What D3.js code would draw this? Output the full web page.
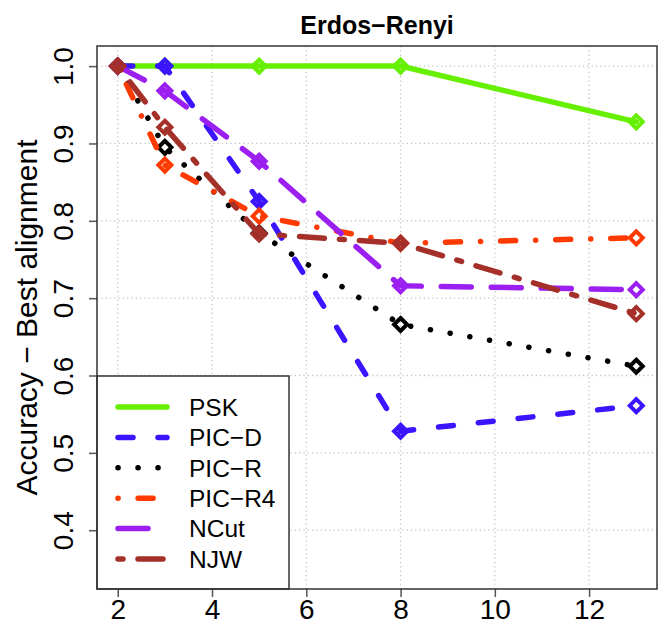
<!DOCTYPE html>
<html>
<head>
<meta charset="utf-8">
<script src="https://cdn.jsdelivr.net/npm/d3@7"></script>
<style>
  body { margin: 0; background: #fff; }
  svg text { font-family: "Liberation Sans", Arial, Helvetica, sans-serif; fill: #000; }
</style>
</head>
<body>
<svg id="chart" width="658" height="629"></svg>
<script>
// data
var clusters = [2, 3, 5, 8, 13];
var methods = ['PSK', 'PIC-D', 'PIC-R', 'PIC-R4', 'NCut', 'NJW'];
var psk   = [1.000, 1.000, 1.000, 1.000, 0.928];
var picD  = [1.000, 1.000, 0.825, 0.528, 0.561];
var picR  = [1.000, 0.895, 0.784, 0.666, 0.612];
var picR4 = [1.000, 0.872, 0.806, 0.771, 0.778];
var ncut  = [1.000, 0.968, 0.877, 0.716, 0.711];
var njw   = [1.000, 0.921, 0.783, 0.771, 0.680];
var xTicks = [2, 4, 6, 8, 10, 12];
var yTicks = [0.4, 0.5, 0.6, 0.7, 0.8, 0.9, 1.0];

var seriesValues = [psk, picD, picR, picR4, ncut, njw];
var colors = ['#66f000', '#3c14ff', '#000000', '#ff3a00', '#9b1ff0', '#a5302a'];
// R lty 1..6 scaled by line width, round caps
var dashes = [null, '15,25', '0.1,19.9', '0.1,20,15,20', '30,20', '5,15,25,15'];

var svg = d3.select('#chart');
var pL = 97, pR = 657, pT = 46, pB = 589;

var x = d3.scaleLinear().domain([1.56, 13.44]).range([pL, pR]);
var y = d3.scaleLinear().domain([0.324, 1.026]).range([pB, pT]);

// grid
var grid = svg.append('g').attr('stroke', '#c4c4c4').attr('stroke-width', 1.3)
    .attr('stroke-dasharray', '1.3,3');
grid.selectAll('.gx').data(xTicks).enter().append('line')
    .attr('x1', function(d){ return x(d); }).attr('x2', function(d){ return x(d); })
    .attr('y1', pT).attr('y2', pB);
grid.selectAll('.gy').data(yTicks).enter().append('line')
    .attr('x1', pL).attr('x2', pR)
    .attr('y1', function(d){ return y(d); }).attr('y2', function(d){ return y(d); });

// axes
var xAxis = svg.append('g').attr('transform', 'translate(0,' + pB + ')')
    .call(d3.axisBottom(x).tickValues(xTicks).tickSize(8).tickFormat(d3.format('d')));
xAxis.select('.domain').remove();
xAxis.selectAll('line').attr('stroke', '#555').attr('stroke-width', 1.5);
xAxis.selectAll('text')
    .attr('font-size', 28).attr('fill', '#000')
    .attr('y', 30).attr('dy', 0);

var yAxis = svg.append('g').attr('transform', 'translate(' + pL + ',0)')
    .call(d3.axisLeft(y).tickValues(yTicks).tickSize(8).tickFormat(d3.format('.1f')));
yAxis.select('.domain').remove();
yAxis.selectAll('line').attr('stroke', '#555').attr('stroke-width', 1.5);
yAxis.selectAll('text')
    .attr('font-size', 28).attr('fill', '#000')
    .attr('text-anchor', 'middle')
    .attr('x', 0).attr('dy', 0)
    .attr('transform', 'translate(-24,0) rotate(-90)');

// series
var line = d3.line()
    .x(function(d, i){ return x(clusters[i]); })
    .y(function(d){ return y(d); });

var diamond = 'M0,-6.5L6.5,0L0,6.5L-6.5,0Z';

seriesValues.forEach(function(vals, k){
    var g = svg.append('g');
    g.append('path')
        .datum(vals)
        .attr('d', line)
        .attr('fill', 'none')
        .attr('stroke', colors[k])
        .attr('stroke-width', 5.5)
        .attr('stroke-linecap', 'round')
        .attr('stroke-dasharray', dashes[k]);
    g.selectAll('.pt').data(vals).enter().append('path')
        .attr('d', diamond)
        .attr('transform', function(d, i){ return 'translate(' + x(clusters[i]) + ',' + y(d) + ')'; })
        .attr('fill', 'none')
        .attr('stroke', colors[k])
        .attr('stroke-width', 4);
});

// legend
var lg = svg.append('g');
lg.append('rect')
    .attr('x', pL).attr('y', 376)
    .attr('width', 289 - pL).attr('height', pB - 376)
    .attr('fill', '#fff').attr('stroke', '#333').attr('stroke-width', 1.5);
methods.forEach(function(m, k){
    var ly = 407 + k * 30.4;
    lg.append('line')
        .attr('x1', 118).attr('x2', 167)
        .attr('y1', ly).attr('y2', ly)
        .attr('stroke', colors[k]).attr('stroke-width', 5.5)
        .attr('stroke-linecap', 'round')
        .attr('stroke-dasharray', dashes[k]);
    lg.append('text')
        .attr('x', 189).attr('y', ly).attr('dy', '0.36em')
        .attr('font-size', 24.5)
        .text(m.replace('-', '\u2212'));
});

// plot frame
svg.append('rect')
    .attr('x', pL).attr('y', pT)
    .attr('width', pR - pL).attr('height', pB - pT)
    .attr('fill', 'none').attr('stroke', '#333').attr('stroke-width', 1.5);

// titles
svg.append('text')
    .attr('x', (pL + pR) / 2).attr('y', 34)
    .attr('text-anchor', 'middle')
    .attr('font-size', 25).attr('font-weight', 'bold')
    .text('Erdos\u2212Renyi');

svg.append('text')
    .attr('transform', 'translate(37,' + (pT + pB) / 2 + ') rotate(-90)')
    .attr('text-anchor', 'middle')
    .attr('font-size', 30)
    .text('Accuracy \u2212 Best alignment');
</script>
</body>
</html>
